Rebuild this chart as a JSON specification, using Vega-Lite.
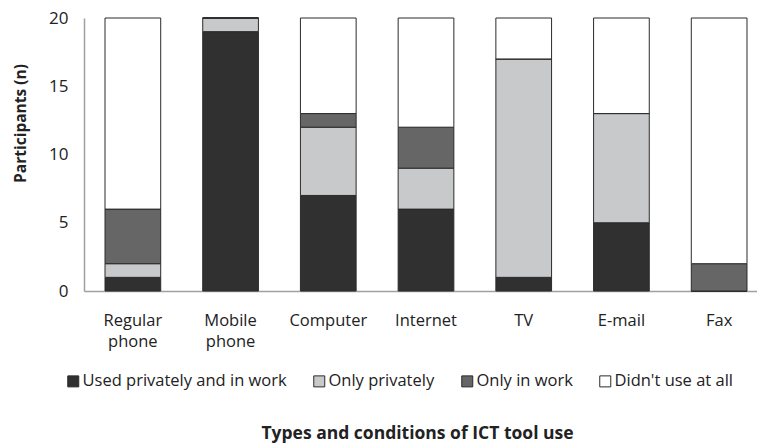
{
  "$schema": "https://vega.github.io/schema/vega-lite/v6.json",
  "autosize": "none",
  "width": 684,
  "height": 273,
  "padding": {"left": 84, "top": 18, "right": 0, "bottom": 153},
  "background": "white",
  "config": {
    "view": {"stroke": null},
    "font": "Open Sans",
    "axis": {"labelColor": "#222222", "titleColor": "#222222", "labelFont": "Open Sans", "titleFont": "Open Sans"},
    "legend": {"labelFont": "Open Sans", "labelColor": "#222222"}
  },
  "data": {
    "values": [
      {"tool": "Regular phone", "condition": "Used privately and in work", "n": 1},
      {"tool": "Regular phone", "condition": "Only privately", "n": 1},
      {"tool": "Regular phone", "condition": "Only in work", "n": 4},
      {"tool": "Regular phone", "condition": "Didn't use at all", "n": 14},
      {"tool": "Mobile phone", "condition": "Used privately and in work", "n": 19},
      {"tool": "Mobile phone", "condition": "Only privately", "n": 1},
      {"tool": "Mobile phone", "condition": "Only in work", "n": 0},
      {"tool": "Mobile phone", "condition": "Didn't use at all", "n": 0},
      {"tool": "Computer", "condition": "Used privately and in work", "n": 7},
      {"tool": "Computer", "condition": "Only privately", "n": 5},
      {"tool": "Computer", "condition": "Only in work", "n": 1},
      {"tool": "Computer", "condition": "Didn't use at all", "n": 7},
      {"tool": "Internet", "condition": "Used privately and in work", "n": 6},
      {"tool": "Internet", "condition": "Only privately", "n": 3},
      {"tool": "Internet", "condition": "Only in work", "n": 3},
      {"tool": "Internet", "condition": "Didn't use at all", "n": 8},
      {"tool": "TV", "condition": "Used privately and in work", "n": 1},
      {"tool": "TV", "condition": "Only privately", "n": 16},
      {"tool": "TV", "condition": "Only in work", "n": 0},
      {"tool": "TV", "condition": "Didn't use at all", "n": 3},
      {"tool": "E-mail", "condition": "Used privately and in work", "n": 5},
      {"tool": "E-mail", "condition": "Only privately", "n": 8},
      {"tool": "E-mail", "condition": "Only in work", "n": 0},
      {"tool": "E-mail", "condition": "Didn't use at all", "n": 7},
      {"tool": "Fax", "condition": "Used privately and in work", "n": 0},
      {"tool": "Fax", "condition": "Only privately", "n": 0},
      {"tool": "Fax", "condition": "Only in work", "n": 2},
      {"tool": "Fax", "condition": "Didn't use at all", "n": 18}
    ]
  },
  "mark": {"type": "bar", "stroke": "#2b2b2b", "strokeWidth": 1},
  "encoding": {
    "x": {
      "field": "tool",
      "type": "nominal",
      "sort": null,
      "scale": {"paddingInner": 0.43, "paddingOuter": 0.215},
      "axis": {
        "title": "Types and conditions of ICT tool use",
        "titleFontSize": 17.5,
        "titleFontWeight": "bold",
        "titleX": 333,
        "titleY": 147,
        "titleBaseline": "alphabetic",
        "labelAngle": 0,
        "labelFontSize": 16.5,
        "labelLineHeight": 21,
        "labelPadding": 21,
        "labelExpr": "split(datum.label, ' ')",
        "ticks": false,
        "domainColor": "#a0a0a0",
        "domainWidth": 1.5
      }
    },
    "y": {
      "field": "n",
      "type": "quantitative",
      "stack": "zero",
      "scale": {"domain": [0, 20], "nice": false},
      "axis": {
        "title": "Participants (n)",
        "titleFontSize": 15.5,
        "titleFontWeight": "bold",
        "titleX": -56,
        "titleY": 105,
        "titleBaseline": "bottom",
        "values": [0, 5, 10, 15, 20],
        "labelFontSize": 17,
        "labelPadding": 16,
        "ticks": false,
        "grid": false,
        "domainColor": "#a0a0a0",
        "domainWidth": 1.5
      }
    },
    "color": {
      "field": "condition",
      "type": "nominal",
      "scale": {
        "domain": ["Used privately and in work", "Only privately", "Only in work", "Didn't use at all"],
        "range": ["#303030", "#c8c9cb", "#666666", "#ffffff"]
      },
      "legend": {
        "title": null,
        "orient": "none",
        "direction": "horizontal",
        "legendX": -19,
        "legendY": 355,
        "symbolType": "square",
        "symbolSize": 121,
        "symbolStrokeColor": "#2b2b2b",
        "symbolStrokeWidth": 1,
        "labelFontSize": 16.5,
        "labelLimit": 0,
        "labelOffset": 1,
        "columnPadding": 24,
        "padding": 0
      }
    },
    "order": {"field": "condition", "sort": "descending"}
  }
}
